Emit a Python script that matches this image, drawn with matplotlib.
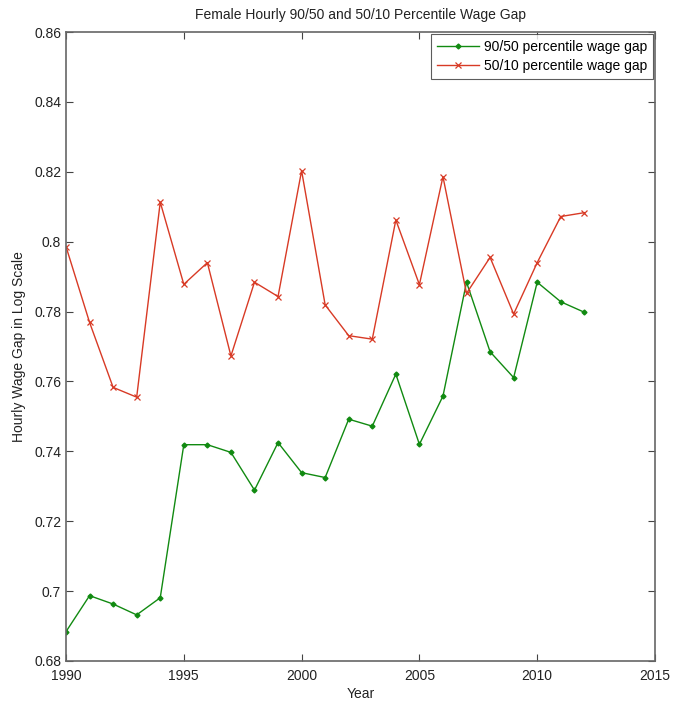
import matplotlib
matplotlib.use("Agg")
import matplotlib.pyplot as plt

years = list(range(1990, 2013))
gap_90_50 = [0.6884, 0.6987, 0.6963, 0.6932, 0.6981, 0.7419, 0.7419, 0.7397, 0.7289, 0.7425,
             0.7339, 0.7325, 0.7492, 0.7472, 0.7621, 0.7420, 0.7558, 0.7884, 0.7685, 0.7611,
             0.7884, 0.7828, 0.7798]
gap_50_10 = [0.7986, 0.7769, 0.7583, 0.7555, 0.8113, 0.7878, 0.7940, 0.7673, 0.7884, 0.7843,
             0.8203, 0.7819, 0.7731, 0.7721, 0.8062, 0.7877, 0.8186, 0.7852, 0.7955, 0.7793,
             0.7940, 0.8072, 0.8083]
xticks = [1990, 1995, 2000, 2005, 2010, 2015]
yticks = [0.68, 0.70, 0.72, 0.74, 0.76, 0.78, 0.80, 0.82, 0.84, 0.86]
ytick_labels = ["0.68", "0.7", "0.72", "0.74", "0.76", "0.78", "0.8", "0.82", "0.84", "0.86"]

plt.rcParams['font.family'] = ['Liberation Sans', 'DejaVu Sans']
fig = plt.figure(figsize=(6.86, 7.06), dpi=100)
ax = fig.add_axes([66/686, 1-661/706, (655-66)/686, (661-32)/706])

ax.plot(years, gap_90_50, color='#118a11', lw=1.0, marker='D', ms=2.5,
        label='90/50 percentile wage gap')
ax.plot(years, gap_50_10, color='#d83a25', lw=1.0, marker='x', ms=4.5, mew=0.9,
        label='50/10 percentile wage gap')

ax.set_xlim(1990, 2015)
ax.set_ylim(0.68, 0.86)
ax.set_xticks(xticks)
ax.set_xticklabels([str(t) for t in xticks])
ax.set_yticks(yticks)
ax.set_yticklabels(ytick_labels)
ax.tick_params(direction='in', length=5, width=0.8, top=True, right=True,
               labelsize=10, colors='#444444', labelcolor='#222222')
ax.tick_params(axis='x', pad=5.5)
ax.tick_params(axis='y', pad=3.5)
for s in ax.spines.values():
    s.set_color('#666666')
    s.set_linewidth(1.2)

ax.set_title('Female Hourly 90/50 and 50/10 Percentile Wage Gap', fontsize=10,
             color='#222222', pad=9)
ax.set_xlabel('Year', fontsize=10, color='#222222', labelpad=3)
ax.set_ylabel('Hourly Wage Gap in Log Scale', fontsize=10, color='#222222', labelpad=6)

leg = ax.legend(loc='upper right', fontsize=10, frameon=True, fancybox=False,
                borderaxespad=0.15, handlelength=3.0, handletextpad=0.4,
                borderpad=0.4, labelspacing=0.4)
leg.get_frame().set_edgecolor('#333333')
leg.get_frame().set_linewidth(0.8)

fig.savefig('out.png', dpi=100)
